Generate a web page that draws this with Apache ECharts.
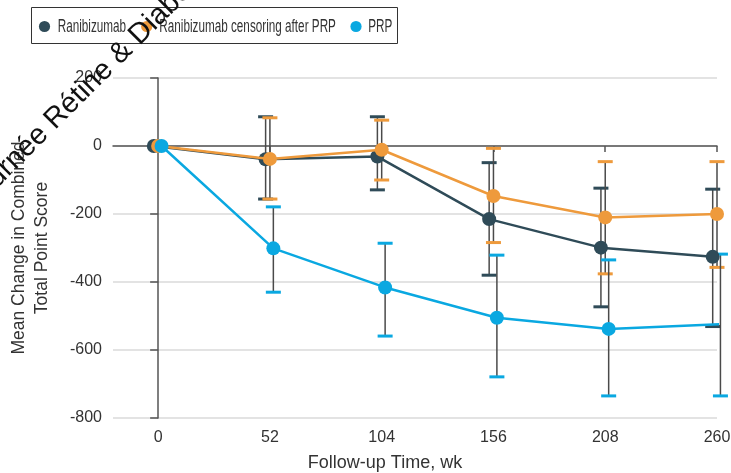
<!DOCTYPE html>
<html>
<head>
<meta charset="utf-8">
<script src="https://cdn.jsdelivr.net/npm/echarts@6/dist/echarts.min.js"></script>
<style>html,body{margin:0;padding:0;background:#fff;}#chart{width:731px;height:473px;}</style>
</head>
<body>
<div id="chart"></div>
<script>
const weeks = [0, 52, 104, 156, 208, 260];
const tickLabels = ['0', '52', '104', '156', '208', '260'];
const seriesNames = ['Ranibizumab', 'Ranibizumab censoring after PRP', 'PRP'];
const ranibizumab = [0, -39, -31, -215, -299, -326];
const ranibizumabLow = [0, -156, -129, -380, -473, -531];
const ranibizumabHigh = [0, 86, 86, -49, -124, -127];
const censored = [0, -38, -11, -147, -210, -200];
const censoredLow = [0, -156, -100, -284, -376, -357];
const censoredHigh = [0, 83, 76, -7, -46, -46];
const prp = [0, -301, -416, -505, -538, -524];
const prpLow = [0, -430, -559, -679, -735, -735];
const prpHigh = [0, -179, -286, -321, -335, -318];

const colors = ['#2f4b58', '#ee9a3c', '#0aa8e1'];
const offsets = [-2, 0, 1.6];
const FONT = '"Liberation Sans", Arial, sans-serif';

const groups = [
  [ranibizumab, ranibizumabLow, ranibizumabHigh],
  [censored, censoredLow, censoredHigh],
  [prp, prpLow, prpHigh]
];

const series = [];
groups.forEach((g, i) => {
  const [mean, low, high] = g;
  series.push({
    type: 'custom',
    name: seriesNames[i] + ' CI',
    z: 2 + i * 0.1,
    silent: true,
    data: weeks.map((w, k) => [w + offsets[i], low[k], high[k]]),
    renderItem: function (params, api) {
      const x = api.value(0), lo = api.value(1), hi = api.value(2);
      if (lo === hi) return null;
      const pLo = api.coord([x, lo]);
      const pHi = api.coord([x, hi]);
      const hw = 7.5;
      return {
        type: 'group',
        children: [
          { type: 'line', shape: { x1: pLo[0], y1: pLo[1], x2: pHi[0], y2: pHi[1] }, style: { stroke: '#4a4a4a', lineWidth: 1.5 } },
          { type: 'line', shape: { x1: pLo[0] - hw, y1: pLo[1], x2: pLo[0] + hw, y2: pLo[1] }, style: { stroke: colors[i], lineWidth: 3 } },
          { type: 'line', shape: { x1: pHi[0] - hw, y1: pHi[1], x2: pHi[0] + hw, y2: pHi[1] }, style: { stroke: colors[i], lineWidth: 3 } }
        ]
      };
    }
  });
});
groups.forEach((g, i) => {
  series.push({
    type: 'line',
    name: seriesNames[i],
    z: 5 + i,
    data: weeks.map((w, k) => [w + offsets[i], g[0][k]]),
    symbol: 'circle',
    symbolSize: 14,
    lineStyle: { color: colors[i], width: 2.5 },
    itemStyle: { color: colors[i] },
    emphasis: { disabled: true }
  });
});

// Legend drawn as graphic so the condensed lettering of the original can be approximated
const legendIconX = [44.5, 146.7, 356];
const legendTextX = [57.7, 159.3, 368.3];
const legendY = 26.5;
const legendGraphics = [{
  type: 'rect', z: 50,
  shape: { x: 31.5, y: 7.5, width: 366, height: 36 },
  style: { fill: '#fff', stroke: '#333', lineWidth: 1 }
}];
seriesNames.forEach((n, i) => {
  legendGraphics.push({
    type: 'circle', z: 51,
    shape: { cx: legendIconX[i], cy: legendY, r: 5.6 },
    style: { fill: colors[i] }
  });
  legendGraphics.push({
    type: 'text', z: 51,
    x: legendTextX[i], y: legendY + 0.5, scaleX: 0.67,
    style: { text: n, font: '17.5px "Liberation Sans", Arial, sans-serif', fill: '#333', align: 'left', verticalAlign: 'middle' }
  });
});

const chart = echarts.init(document.getElementById('chart'), null, { renderer: 'canvas' });
chart.setOption({
  animation: false,
  backgroundColor: '#fff',
  textStyle: { fontFamily: FONT },
  grid: { left: 113, right: 14, top: 78, bottom: 55, containLabel: false, outerBoundsMode: 'none' },
  xAxis: {
    type: 'value',
    min: -21,
    max: 260,
    name: 'Follow-up Time, wk',
    nameLocation: 'middle',
    nameGap: 36,
    nameTextStyle: { fontFamily: FONT, fontSize: 18, color: '#333', padding: [0, 60, 0, 0] },
    axisLine: { show: true, lineStyle: { color: '#555', width: 1.5 } },
    axisTick: { show: true, length: 6, customValues: weeks, lineStyle: { color: '#555', width: 1.5 } },
    axisLabel: {
      customValues: weeks,
      formatter: v => tickLabels[weeks.indexOf(v)],
      fontFamily: FONT, fontSize: 16, color: '#333', margin: 12
    },
    splitLine: { show: false }
  },
  yAxis: {
    type: 'value',
    min: -800,
    max: 200,
    interval: 200,
    name: 'Mean Change in Combined\nTotal Point Score',
    nameLocation: 'middle',
    nameGap: 59,
    nameTextStyle: { fontFamily: FONT, fontSize: 17.5, color: '#333', lineHeight: 23 },
    axisLine: { show: true, lineStyle: { color: '#555', width: 1.5 } },
    axisTick: { show: true, length: 8, lineStyle: { color: '#555', width: 1.5 } },
    axisLabel: { fontFamily: FONT, fontSize: 16, color: '#333', margin: 11 },
    splitLine: { show: true, lineStyle: { color: '#dadada', width: 1.5 } }
  },
  graphic: legendGraphics.concat([
    {
      type: 'text',
      z: 100,
      x: 87,
      y: 87,
      rotation: Math.PI / 4,
      style: {
        text: 'Journée Rétine & Diabète',
        font: '29px "Liberation Sans", sans-serif',
        fill: '#111',
        align: 'center',
        verticalAlign: 'middle'
      }
    }
  ]),
  series: series
});
</script>
</body>
</html>
